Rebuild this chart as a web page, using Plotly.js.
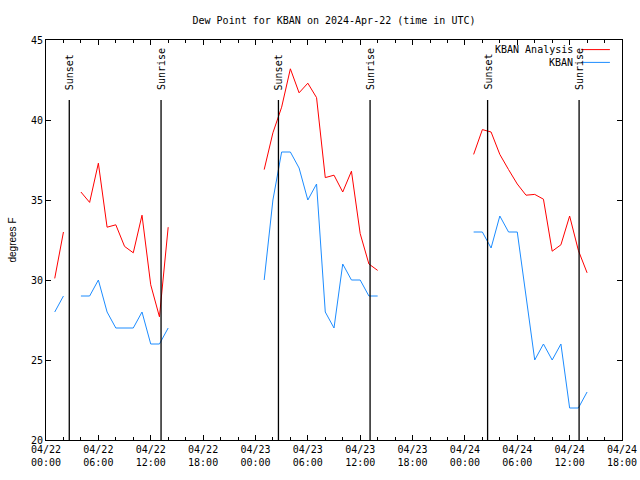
<!DOCTYPE html>
<html>
<head>
<meta charset="utf-8">
<script src="https://cdn.plot.ly/plotly-3.0.1.min.js"></script>
<style>html,body{margin:0;padding:0;background:#fff}#chart{width:640px;height:480px}</style>
</head>
<body>
<div id="chart"></div>
<script>
// Hourly times (UTC); null entries mark gaps in the record
const times = [
  "2024-04-22 01:00","2024-04-22 02:00","2024-04-22 03:00","2024-04-22 04:00","2024-04-22 05:00",
  "2024-04-22 06:00","2024-04-22 07:00","2024-04-22 08:00","2024-04-22 09:00","2024-04-22 10:00",
  "2024-04-22 11:00","2024-04-22 12:00","2024-04-22 13:00","2024-04-22 14:00","2024-04-22 15:00",
  "2024-04-23 01:00","2024-04-23 02:00","2024-04-23 03:00","2024-04-23 04:00","2024-04-23 05:00",
  "2024-04-23 06:00","2024-04-23 07:00","2024-04-23 08:00","2024-04-23 09:00","2024-04-23 10:00",
  "2024-04-23 11:00","2024-04-23 12:00","2024-04-23 13:00","2024-04-23 14:00","2024-04-23 15:00",
  "2024-04-24 01:00","2024-04-24 02:00","2024-04-24 03:00","2024-04-24 04:00","2024-04-24 05:00",
  "2024-04-24 06:00","2024-04-24 07:00","2024-04-24 08:00","2024-04-24 09:00","2024-04-24 10:00",
  "2024-04-24 11:00","2024-04-24 12:00","2024-04-24 13:00","2024-04-24 14:00"
];

const analysisDewPoint = [
  30.1, 33.0, null, 35.5, 34.85, 37.3, 33.3, 33.45, 32.1, 31.7, 34.05, 29.7, 27.7, 33.3, null,
  36.9, 39.2, 40.8, 43.2, 41.7, 42.3, 41.4, 36.4, 36.55, 35.5, 36.8, 32.9, 31.0, 30.6, null,
  37.85, 39.4, 39.25, 37.85, 36.9, 36.0, 35.3, 35.35, 35.05, 31.8, 32.2, 34.0, 31.85, 30.45
];

const observedDewPoint = [
  28, 29, null, 29, 29, 30, 28, 27, 27, 27, 28, 26, 26, 27, null,
  30, 35, 38, 38, 37, 35, 36, 28, 27, 31, 30, 30, 29, 29, null,
  33, 33, 32, 34, 33, 33, 29, 25, 26, 25, 26, 22, 22, 23
];

const sunsetTimes = ["2024-04-22 02:40", "2024-04-23 02:38", "2024-04-24 02:36"];
const sunriseTimes = ["2024-04-22 13:11", "2024-04-23 13:08", "2024-04-24 13:05"];

const xTickVals = [
  "2024-04-22 00:00","2024-04-22 06:00","2024-04-22 12:00","2024-04-22 18:00",
  "2024-04-23 00:00","2024-04-23 06:00","2024-04-23 12:00","2024-04-23 18:00",
  "2024-04-24 00:00","2024-04-24 06:00","2024-04-24 12:00","2024-04-24 18:00"
];
const xTickText = [
  "04/22<br>00:00","04/22<br>06:00","04/22<br>12:00","04/22<br>18:00",
  "04/23<br>00:00","04/23<br>06:00","04/23<br>12:00","04/23<br>18:00",
  "04/24<br>00:00","04/24<br>06:00","04/24<br>12:00","04/24<br>18:00"
];

const seriesNames = ["KBAN Analysis", "KBAN"];
const seriesColors = ["#ff0000", "#1c8cff"];

const MONO = "DejaVu Sans Mono, monospace";

const traces = [
  {x: times, y: analysisDewPoint, name: seriesNames[0], type: "scatter", mode: "lines",
   connectgaps: false, line: {color: seriesColors[0], width: 1}},
  {x: times, y: observedDewPoint, name: seriesNames[1], type: "scatter", mode: "lines",
   connectgaps: false, line: {color: seriesColors[1], width: 1}}
];

const shapes = [];
const annotations = [];
function addEvent(t, label) {
  shapes.push({type: "line", xref: "x", yref: "y", x0: t, x1: t, y0: 20, y1: 41.25,
               line: {color: "#000", width: 1.3}});
  annotations.push({xref: "x", yref: "paper", x: t, y: 0.87, text: label, textangle: -90,
                    showarrow: false, xanchor: "center", yanchor: "bottom",
                    font: {family: MONO, size: 10, color: "#000"}});
}
sunsetTimes.forEach(t => addEvent(t, "Sunset"));
sunriseTimes.forEach(t => addEvent(t, "Sunrise"));

// legend in gnuplot style (text on the left, line sample on the right)
const legendRows = [0.976, 0.944];
seriesNames.forEach((name, i) => {
  annotations.push({xref: "paper", yref: "paper", x: 0.9184, y: legendRows[i], text: name,
                    showarrow: false, xanchor: "right", yanchor: "middle",
                    font: {family: MONO, size: 10, color: "#000"}});
  shapes.push({type: "line", xref: "paper", yref: "paper", x0: 0.9288, x1: 0.979,
               y0: legendRows[i], y1: legendRows[i], line: {color: seriesColors[i], width: 1}});
});

const layout = {
  width: 640, height: 480,
  margin: {l: 46, r: 18, t: 40, b: 40, pad: 0},
  paper_bgcolor: "#fff", plot_bgcolor: "#fff",
  showlegend: false,
  font: {family: MONO, size: 10, color: "#000"},
  title: {text: "Dew Point for KBAN on 2024-Apr-22 (time in UTC)",
          font: {family: MONO, size: 10, color: "#000"},
          x: 0.5, xref: "paper", xanchor: "center", y: 0.957, yref: "container", yanchor: "middle"},
  xaxis: {type: "date", range: ["2024-04-22 00:00", "2024-04-24 18:00"],
          tickmode: "array", tickvals: xTickVals, ticktext: xTickText,
          ticks: "inside", ticklen: 5, tickcolor: "#000", tickwidth: 1,
          minor: {dtick: 7200000, tick0: "2024-04-22 00:00", ticks: "inside", ticklen: 3,
                  tickcolor: "#000", tickwidth: 1, showgrid: false},
          showline: true, linecolor: "#000", linewidth: 1, mirror: "ticks",
          showgrid: false, zeroline: false,
          tickfont: {family: MONO, size: 10, color: "#000"}},
  yaxis: {range: [20, 45], dtick: 5, tick0: 20,
          ticks: "inside", ticklen: 5, tickcolor: "#000", tickwidth: 1,
          showline: true, linecolor: "#000", linewidth: 1, mirror: "ticks",
          showgrid: false, zeroline: false,
          tickfont: {family: MONO, size: 10, color: "#000"},
          title: {text: "degrees F", font: {family: "Liberation Sans, Arial, sans-serif", size: 10, color: "#000"}}},
  shapes: shapes,
  annotations: annotations
};

Plotly.newPlot("chart", traces, layout, {displayModeBar: false, staticPlot: true});
</script>
</body>
</html>
